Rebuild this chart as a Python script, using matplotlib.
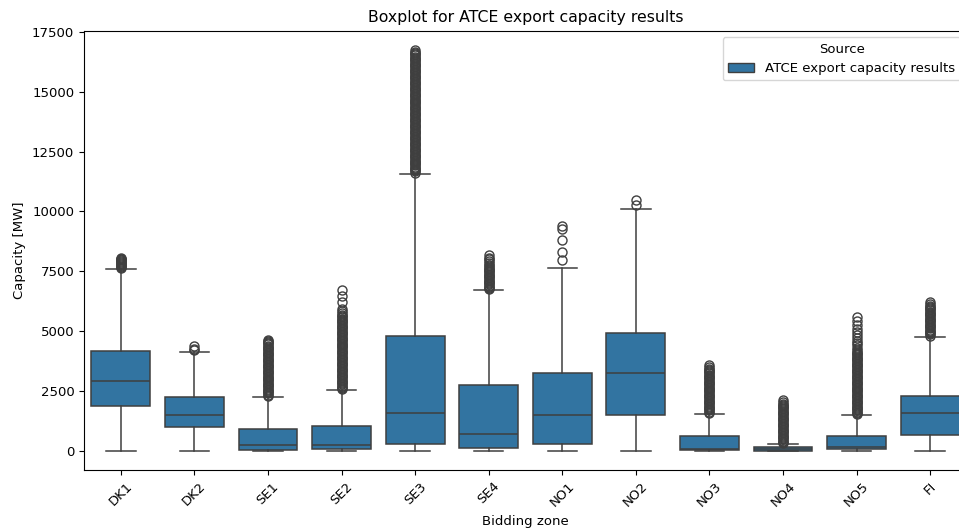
import matplotlib
matplotlib.use("Agg")
import matplotlib.pyplot as plt
from matplotlib.patches import Patch

# zones and box statistics (MW)
zones = ['DK1', 'DK2', 'SE1', 'SE2', 'SE3', 'SE4', 'NO1', 'NO2', 'NO3', 'NO4', 'NO5', 'FI']
q1 = [1870, 990, 20, 55, 260, 95, 280, 1510, 10, 5, 55, 655]
med = [2890, 1480, 235, 240, 1555, 680, 1510, 3255, 70, 50, 165, 1590]
q3 = [4165, 2230, 890, 1045, 4785, 2740, 3255, 4930, 630, 140, 625, 2285]
whis_lo = [0, 0, 0, 0, 0, 0, 0, 0, 0, 0, 0, 0]
whis_hi = [7595, 4135, 2255, 2530, 11575, 6705, 7615, 10085, 1540, 280, 1490, 4765]

# outliers (dense columns in the original, so listed closely)
fl_dk1 = [7630, 7670, 7710, 7750, 7790, 7830, 7870, 7910, 7950, 7990, 8030, 8060]
fl_dk2 = [4190, 4240, 4380]
fl_se1 = [2290, 2340, 2390, 2440, 2490, 2540, 2590, 2640, 2690, 2740, 2790, 2840, 2890,
          2940, 2990, 3040, 3090, 3140, 3190, 3240, 3290, 3340, 3390, 3440, 3490, 3540,
          3590, 3640, 3690, 3740, 3790, 3840, 3890, 3940, 3990, 4040, 4090, 4140, 4190,
          4240, 4290, 4340, 4390, 4440, 4490, 4540, 4590, 4625]
fl_se2 = [2570, 2620, 2670, 2720, 2770, 2820, 2870, 2920, 2970, 3020, 3070, 3120, 3170,
          3220, 3270, 3320, 3370, 3420, 3470, 3520, 3570, 3620, 3670, 3720, 3770, 3820,
          3870, 3920, 3970, 4020, 4070, 4120, 4170, 4220, 4270, 4320, 4370, 4420, 4470,
          4520, 4570, 4620, 4670, 4720, 4770, 4820, 4870, 4920, 4970, 5020, 5070, 5120,
          5170, 5220, 5270, 5320, 5370, 5420, 5470, 5520, 5570, 5620, 5680, 5750, 5830,
          5940, 6220, 6450, 6700]
fl_se3 = [11620, 11670, 11720, 11770, 11820, 11870, 11920, 11970, 12020, 12070, 12120,
          12170, 12220, 12270, 12320, 12370, 12420, 12470, 12520, 12570, 12620, 12670,
          12720, 12770, 12820, 12870, 12920, 12970, 13020, 13070, 13120, 13170, 13220,
          13270, 13320, 13370, 13420, 13470, 13520, 13570, 13620, 13670, 13720, 13770,
          13820, 13870, 13920, 13970, 14020, 14070, 14120, 14170, 14220, 14270, 14320,
          14370, 14420, 14470, 14520, 14570, 14620, 14670, 14720, 14770, 14820, 14870,
          14920, 14970, 15020, 15070, 15120, 15170, 15220, 15270, 15320, 15370, 15420,
          15470, 15520, 15570, 15620, 15670, 15720, 15770, 15820, 15870, 15920, 15970,
          16020, 16070, 16120, 16170, 16220, 16270, 16320, 16370, 16420, 16470, 16520,
          16570, 16620, 16670, 16750]
fl_se4 = [6750, 6800, 6850, 6900, 6950, 7000, 7050, 7100, 7150, 7200, 7250, 7300, 7350,
          7400, 7450, 7500, 7550, 7600, 7650, 7700, 7760, 7830, 7910, 7990, 8070, 8170]
fl_no1 = [7960, 8310, 8800, 9250, 9400]
fl_no2 = [10270, 10470]
fl_no3 = [1580, 1630, 1680, 1730, 1780, 1830, 1880, 1930, 1980, 2030, 2080, 2130, 2180,
          2230, 2280, 2330, 2380, 2430, 2480, 2530, 2580, 2630, 2680, 2730, 2780, 2830,
          2880, 2930, 2980, 3030, 3080, 3130, 3180, 3230, 3280, 3330, 3380, 3430, 3480,
          3560]
fl_no4 = [320, 370, 420, 470, 520, 570, 620, 670, 720, 770, 820, 870, 920, 970, 1020,
          1070, 1120, 1170, 1220, 1270, 1320, 1370, 1420, 1470, 1520, 1570, 1620, 1670,
          1720, 1770, 1820, 1870, 1920, 1970, 2020, 2120]
fl_no5 = [1530, 1580, 1630, 1680, 1730, 1780, 1830, 1880, 1930, 1980, 2030, 2080, 2130,
          2180, 2230, 2280, 2330, 2380, 2430, 2480, 2530, 2580, 2630, 2680, 2730, 2780,
          2830, 2880, 2930, 2980, 3030, 3080, 3130, 3180, 3230, 3280, 3330, 3380, 3430,
          3480, 3530, 3580, 3630, 3680, 3730, 3780, 3830, 3880, 3930, 3980, 4030, 4080,
          4130, 4200, 4300, 4400, 4500, 4600, 4700, 4820, 4950, 5100, 5250, 5400, 5575]
fl_fi = [4810, 4860, 4910, 4960, 5010, 5060, 5110, 5160, 5210, 5260, 5310, 5360, 5410,
         5460, 5510, 5560, 5610, 5660, 5710, 5760, 5810, 5860, 5910, 5960, 6010, 6060,
         6110, 6230]
fliers = [fl_dk1, fl_dk2, fl_se1, fl_se2, fl_se3, fl_se4, fl_no1, fl_no2, fl_no3,
          fl_no4, fl_no5, fl_fi]

fill = '#3274a1'
line = '#3f3f3f'

stats = []
for i, z in enumerate(zones):
    stats.append(dict(label=z, q1=q1[i], med=med[i], q3=q3[i],
                      whislo=whis_lo[i], whishi=whis_hi[i], fliers=fliers[i]))

fig = plt.figure(figsize=(9.59, 5.29), dpi=100)
# axes runs a little past the right edge, as in the cropped original
ax = fig.add_axes([84 / 959, 59 / 529, 883 / 959, 439.3 / 529])

ax.bxp(stats, positions=range(len(zones)), widths=0.8, capwidths=0.4,
       patch_artist=True, showfliers=True,
       boxprops=dict(facecolor=fill, edgecolor=line, linewidth=1.1),
       medianprops=dict(color=line, linewidth=1.1),
       whiskerprops=dict(color=line, linewidth=1.1),
       capprops=dict(color=line, linewidth=1.1),
       flierprops=dict(marker='o', markerfacecolor='none', markeredgecolor=line,
                       markersize=6.5, markeredgewidth=1.0))

ax.set_xlim(-0.5, len(zones) - 0.5)
ax.set_ylim(-810, 17555)
ax.set_yticks([0, 2500, 5000, 7500, 10000, 12500, 15000, 17500])
ax.set_xticks(range(len(zones)))
ax.set_xticklabels(zones, rotation=45)
ax.tick_params(labelsize=9.5)

ax.set_title('Boxplot for ATCE export capacity results', fontsize=11.3)
ax.set_xlabel('Bidding zone', fontsize=9.5)
ax.set_ylabel('Capacity [MW]', fontsize=9.5)

ax.legend(handles=[Patch(facecolor=fill, edgecolor=line, label='ATCE export capacity results')],
          title='Source', loc='upper right', fontsize=9.5, title_fontsize=9.5)

fig.savefig('out.png', dpi=100)
